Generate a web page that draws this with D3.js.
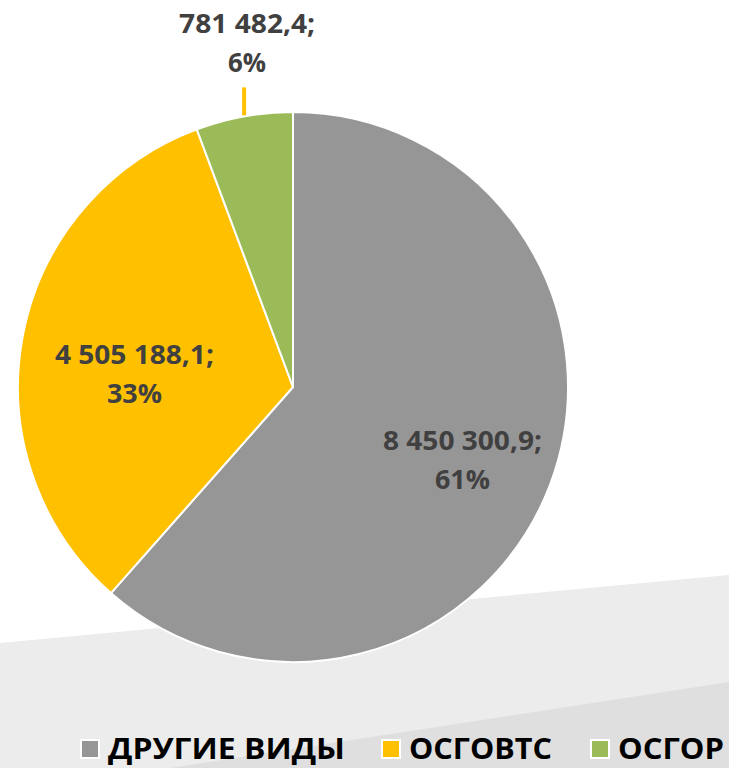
<!DOCTYPE html>
<html>
<head>
<meta charset="utf-8">
<script src="https://cdn.jsdelivr.net/npm/d3@7"></script>
<style>
  body { margin: 0; background: #ffffff; }
  svg { display: block; }
</style>
</head>
<body>
<div id="chart"></div>
<script>
// chart data
const categories = ["ДРУГИЕ ВИДЫ", "ОСГОВТС", "ОСГОР"];
const values = [8450300.9, 4505188.1, 781482.4];
const valueLabels = ["8 450 300,9;", "4 505 188,1;", "781 482,4;"];
const percentLabels = ["61%", "33%", "6%"];
const sliceColors = ["#969696", "#FFC000", "#9BBB59"];

var width = 729;
var height = 768;
var cx = 293, cy = 387, radius = 275;
var labelColor = "#404040";
var fontStack = "'Open Sans', 'Noto Sans', sans-serif";

var svg = d3.select("#chart")
    .append("svg")
    .attr("width", width)
    .attr("height", height);

// light diagonal bands in the background
svg.append("polygon")
    .attr("points", "0,643 729,575 729,768 0,768")
    .attr("fill", "#ececec");
svg.append("polygon")
    .attr("points", "170,768 729,682 729,768")
    .attr("fill", "#dfdfdf");

var color = d3.scaleOrdinal().domain(categories).range(sliceColors);

var rows = categories.map((c, i) => ({ cat: c, value: values[i], vl: valueLabels[i], pl: percentLabels[i] }));

var pie = d3.pie().sort(null).value(d => d.value);
var arc = d3.arc().innerRadius(0).outerRadius(radius);
var labelArc = d3.arc().innerRadius(radius * 0.69).outerRadius(radius * 0.69);

var g = svg.append("g").attr("transform", "translate(" + cx + "," + cy + ")");

var arcs = g.selectAll(".arc")
    .data(pie(rows))
    .enter()
    .append("g")
    .attr("class", "arc");

arcs.append("path")
    .attr("d", arc)
    .attr("fill", d => color(d.data.cat))
    .attr("stroke", "#ffffff")
    .style("stroke-width", "2px");

// small tweaks where excel moved labels off the centroid
var nudge = { "ДРУГИЕ ВИДЫ": [-8, 6], "ОСГОВТС": [28, 22] };

function addLabel(x, y, d) {
    var t = svg.append("g").attr("transform", "translate(" + x + "," + y + ")");
    var w1 = d.data.vl.length > 10 ? 159 : 136;
    t.append("text")
        .attr("text-anchor", "middle")
        .attr("y", -2)
        .attr("textLength", w1)
        .attr("lengthAdjust", "spacingAndGlyphs")
        .style("font-family", fontStack)
        .style("font-weight", "bold")
        .style("font-size", "27px")
        .style("fill", labelColor)
        .text(d.data.vl);
    t.append("text")
        .attr("text-anchor", "middle")
        .attr("y", 37)
        .attr("textLength", d.data.pl.length > 2 ? 55 : 38)
        .attr("lengthAdjust", "spacingAndGlyphs")
        .style("font-family", fontStack)
        .style("font-weight", "bold")
        .style("font-size", "27px")
        .style("fill", labelColor)
        .text(d.data.pl);
}

pie(rows).forEach(function (d) {
    var frac = (d.endAngle - d.startAngle) / (2 * Math.PI);
    if (frac > 0.1) {
        var c = labelArc.centroid(d);
        var n = nudge[d.data.cat] || [0, 0];
        addLabel(cx + c[0] + n[0], cy + c[1] + n[1] - 8, d);
    } else {
        // small slice: label outside with a leader line
        var mid = (d.startAngle + d.endAngle) / 2;
        var px = cx + radius * Math.sin(mid);
        var py = cy - radius * Math.cos(mid);
        svg.append("line")
            .attr("x1", px).attr("x2", px)
            .attr("y1", py - 1).attr("y2", py - 29)
            .attr("stroke", "#FFC000")
            .style("stroke-width", "4px");
        addLabel(px + 3, py - 81, d);
    }
});

// legend
var legendX = [80, 381, 590];
var legendW = [237, 143, 106];
var legend = svg.selectAll(".legend")
    .data(categories)
    .enter()
    .append("g")
    .attr("class", "legend")
    .attr("transform", (d, i) => "translate(" + legendX[i] + ",739)");

legend.append("rect")
    .attr("x", 1).attr("y", 1)
    .attr("width", 18).attr("height", 18)
    .attr("fill", d => color(d))
    .attr("stroke", "#ffffff")
    .style("stroke-width", "2px");

legend.append("text")
    .attr("x", 28)
    .attr("y", 20)
    .attr("textLength", (d, i) => legendW[i])
    .attr("lengthAdjust", "spacingAndGlyphs")
    .style("font-family", fontStack)
    .style("font-weight", "bold")
    .style("font-size", "29px")
    .style("fill", "#000000")
    .text(d => d);
</script>
</body>
</html>
